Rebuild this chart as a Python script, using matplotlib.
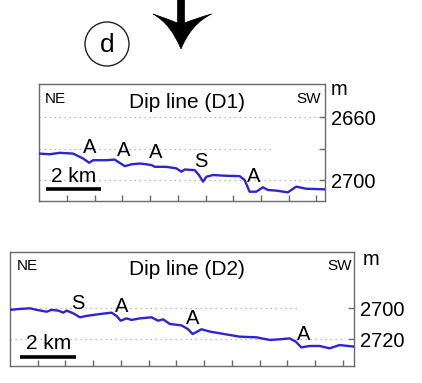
import numpy as np
import matplotlib
matplotlib.use("Agg")
import matplotlib.pyplot as plt
from matplotlib.path import Path
from matplotlib.patches import PathPatch, Circle
import matplotlib.transforms as mtransforms

plt.rcParams['font.family'] = ['Liberation Sans', 'DejaVu Sans']

# Dip line D1 profile (distance km, depth m)
d1_km = [0, 0.38, 0.74, 1.22, 1.58, 1.80, 1.94, 2.42, 2.72, 2.84, 3.09, 3.33, 3.63,
         3.87, 4.05, 4.17, 4.59, 4.95, 5.13, 5.25, 5.61, 5.76, 5.91, 6.03, 6.27,
         6.75, 7.23, 7.41, 7.59, 7.83, 8.07, 8.25, 8.55, 8.97, 9.27, 9.63, 10.31]
d1_depth = [2683.2, 2683.6, 2682.7, 2683.2, 2686.3, 2689.0, 2687.4, 2687.4, 2687.0,
            2688.4, 2691.2, 2690.0, 2689.5, 2690.0, 2690.5, 2691.6, 2691.6, 2692.6,
            2694.7, 2693.3, 2693.7, 2696.8, 2701.0, 2697.9, 2696.8, 2697.3, 2697.5,
            2700.0, 2707.4, 2707.4, 2704.6, 2706.3, 2706.7, 2707.8, 2704.2, 2705.5,
            2705.9]
d1_marks = ['A', 'A', 'A', 'S', 'A']
d1_mark_km = [1.80, 3.03, 4.20, 5.82, 7.73]
d1_mark_depth = [2679.4, 2681.0, 2682.7, 2688.0, 2697.9]
d1_ticks = [2660, 2680, 2700]
d1_ticklabels = ['2660', '', '2700']

# Dip line D2 profile
d2_km = [0, 0.36, 0.72, 0.96, 1.32, 1.50, 1.74, 1.92, 2.04, 2.28, 2.52, 2.76, 3.00,
         3.24, 3.66, 3.84, 3.99, 4.20, 4.38, 4.68, 5.10, 5.34, 5.52, 5.76, 6.18,
         6.42, 6.58, 6.72, 6.90, 7.20, 7.56, 7.92, 8.28, 8.88, 9.36, 9.72, 10.08,
         10.30, 10.50, 10.80, 11.16, 11.52, 11.88, 12.40]
d2_depth = [2701.0, 2700.4, 2700.0, 2701.0, 2702.2, 2701.0, 2701.5, 2702.8, 2701.5,
            2703.2, 2705.8, 2704.9, 2704.3, 2703.7, 2702.8, 2704.9, 2708.0, 2706.5,
            2707.5, 2706.5, 2705.8, 2708.0, 2707.1, 2710.1, 2711.0, 2713.5, 2716.6,
            2715.3, 2713.5, 2715.0, 2716.1, 2717.2, 2718.3, 2718.7, 2720.4, 2720.0,
            2719.4, 2721.5, 2725.2, 2724.3, 2724.3, 2725.8, 2723.7, 2724.7]
d2_marks = ['S', 'A', 'A', 'A']
d2_mark_km = [2.46, 4.02, 6.58, 10.59]
d2_mark_depth = [2696.8, 2698.9, 2706.5, 2717.2]
d2_ticks = [2700, 2720]
d2_ticklabels = ['2700', '2720']

line_col = '#2d25d4'
frame_col = '#6a6a6a'
grid_col = '#a8a8a8'

fig = plt.figure(figsize=(4.22, 3.83), dpi=100)

# overlay for the panel label and arrow (pixel coordinates)
bg = fig.add_axes([0, 0, 1, 1])
bg.set_xlim(0, 422)
bg.set_ylim(383, 0)
bg.axis('off')
bg.add_patch(Circle((107, 44), 22, fill=False, ec='#222222', lw=1.0))
bg.text(107, 45, 'd', fontsize=19, ha='center', va='center')
verts = [(177.5, 0), (177.5, 23), (165, 18), (153, 14), (171, 24), (181, 49),
         (191, 24), (211.5, 14), (197, 18), (184.5, 23), (184.5, 0), (177.5, 0)]
codes = [Path.MOVETO, Path.LINETO, Path.CURVE3, Path.CURVE3, Path.CURVE3, Path.CURVE3,
         Path.CURVE3, Path.CURVE3, Path.CURVE3, Path.CURVE3, Path.LINETO, Path.CLOSEPOLY]
bg.add_patch(PathPatch(Path(verts, codes), fc='black', ec='black', lw=0.5))


def panel(rect, km, depth, xmax, ylim, ticks, ticklabels, grid_ext, marks, mk_km,
          mk_depth, title, m_pos, bar, bar_y, bar_text_y, txt_y):
    ax = fig.add_axes(rect)
    ax.plot(km, depth, color=line_col, lw=1.7, zorder=3)
    ax.set_xlim(0, xmax)
    ax.set_ylim(*ylim)
    for y, ext in zip(ticks, grid_ext):
        if ext > 0:
            ax.axhline(y, xmin=0, xmax=ext, color=grid_col, lw=0.9,
                       ls=(0, (1, 3)), zorder=1)
    for s, x, y in zip(marks, mk_km, mk_depth):
        ax.text(x, y, s, fontsize=14.5, ha='center', va='center', zorder=4)
    for sp in ax.spines.values():
        sp.set_color(frame_col)
        sp.set_linewidth(1.0)
    ax.yaxis.tick_right()
    ax.set_yticks(ticks)
    ax.set_yticklabels(ticklabels, fontsize=14.5)
    ax.tick_params(axis='y', direction='in', length=4, width=1, color=frame_col, pad=4)
    ax.set_xticks(np.arange(1, int(xmax) + 1))
    ax.set_xticklabels([])
    ax.tick_params(axis='x', direction='in', length=4, width=1, color=frame_col)
    ax.text(0.02, txt_y[0], 'NE', fontsize=11, transform=ax.transAxes, ha='left',
            va='baseline')
    ax.text(txt_y[2], txt_y[0], 'SW', fontsize=11, transform=ax.transAxes, ha='right',
            va='baseline')
    ax.text(txt_y[3], txt_y[1], title, fontsize=15, transform=ax.transAxes,
            ha='center', va='baseline')
    ax.text(m_pos[0], m_pos[1], 'm', fontsize=14.5, transform=ax.transAxes,
            ha='left', va='center', clip_on=False)
    tr = mtransforms.blended_transform_factory(ax.transData, ax.transAxes)
    ax.plot(bar, [bar_y, bar_y], color='black', lw=2.6, transform=tr,
            solid_capstyle='butt', zorder=4)
    ax.text(sum(bar) / 2 + 0.02, bar_text_y, '2 km', fontsize=15, transform=tr,
            ha='center', va='baseline')
    return ax


panel([0.0931, 0.4752, 0.677, 0.3055], d1_km, d1_depth, 10.31, (2713.3, 2639.0),
      d1_ticks, d1_ticklabels, [0.975, 0.815, 0.975], d1_marks, d1_mark_km,
      d1_mark_depth, 'Dip line (D1)', (1.021, 0.949), (0.23, 2.23), 0.105, 0.165,
      (0.835, 0.792, 0.984, 0.517))

panel([0.0237, 0.0444, 0.8152, 0.2984], d2_km, d2_depth, 12.40, (2737.2, 2663.5),
      d2_ticks, d2_ticklabels, [0.834, 0.975], d2_marks, d2_mark_km,
      d2_mark_depth, 'Dip line (D2)', (1.026, 0.936), (0.36, 2.38), 0.081, 0.146,
      (0.84, 0.796, 0.994, 0.515))

fig.savefig('out.png', dpi=100)
